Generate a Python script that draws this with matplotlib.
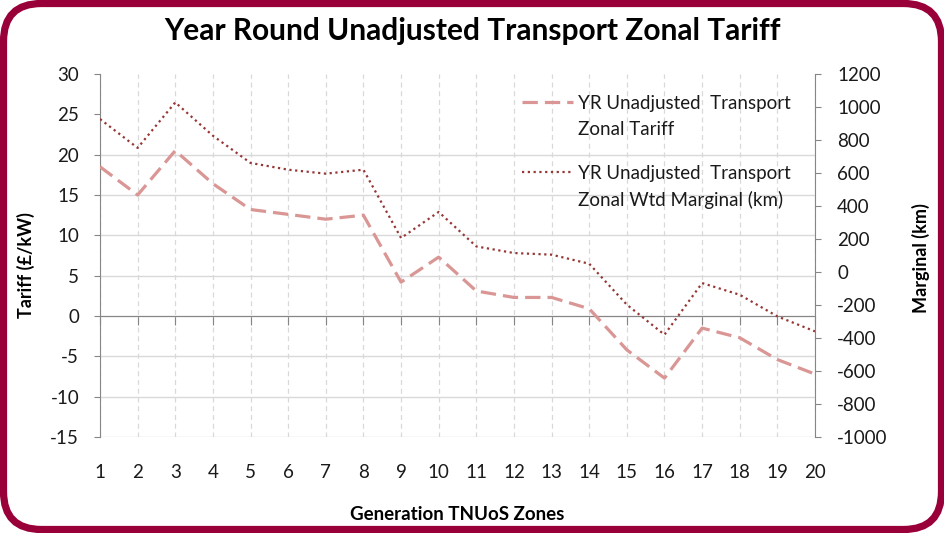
import matplotlib
matplotlib.use("Agg")
import matplotlib.pyplot as plt
from matplotlib.patches import FancyBboxPatch
from matplotlib.transforms import IdentityTransform
from matplotlib.legend_handler import HandlerLine2D

plt.rcParams['font.family'] = ['Lato', 'DejaVu Sans']
plt.rcParams['axes.unicode_minus'] = False

# values
zones = list(range(1, 21))
tariff = [18.5, 15.0, 20.5, 16.4, 13.2, 12.6, 12.0, 12.5, 4.2, 7.3,
          3.1, 2.3, 2.3, 0.9, -4.2, -7.7, -1.5, -2.7, -5.4, -7.2]
marginal = [927, 752, 1028, 826, 661, 620, 596, 620, 206, 364,
            155, 115, 105, 50, -198, -380, -67, -138, -269, -360]
left_ticks = [30, 25, 20, 15, 10, 5, 0, -5, -10, -15]
right_ticks = [1200, 1000, 800, 600, 400, 200, 0, -200, -400, -600, -800, -1000]

title = "Year Round Unadjusted Transport Zonal Tariff"
lab_tariff = "YR Unadjusted  Transport\nZonal Tariff"
lab_marg = "YR Unadjusted  Transport\nZonal Wtd Marginal (km)"

axis_grey = '#868686'
grid_grey = '#d9d9d9'
txt = '#1a1a1a'


class FirstLineHandler(HandlerLine2D):
    # put the legend key beside the first line of a two-line label
    def create_artists(self, legend, orig_handle, xdescent, ydescent,
                       width, height, fontsize, trans):
        return super().create_artists(legend, orig_handle, xdescent,
                                      ydescent - 21.5, width, height,
                                      fontsize, trans)


fig = plt.figure(figsize=(9.45, 5.33), dpi=100)
ax = fig.add_axes([100 / 945, 1 - 437 / 533, 715 / 945, 363 / 533])
ax2 = ax.twinx()

l1, = ax.plot(zones, tariff, color='#D99694', lw=2.3,
              linestyle=(0, (4.8, 2.2)), label=lab_tariff, zorder=3)
l2, = ax2.plot(zones, marginal, color='#953735', lw=1.6,
               linestyle=(0, (1, 1.6)), label=lab_marg, zorder=3)

ax.set_xlim(1, 20)
ax.set_ylim(-15, 30)
ax2.set_ylim(-1000, 1200)
ax.set_xticks(zones)
ax.set_yticks(left_ticks)
ax2.set_yticks(right_ticks)

# gridlines
ax.grid(axis='x', color=grid_grey, lw=0.9, linestyle=(0, (4, 3)))
ax.grid(axis='y', color=grid_grey, lw=1.0)
for val, gl in zip(left_ticks, ax.yaxis.get_gridlines()):
    if val > 20:
        gl.set_visible(False)
ax.set_axisbelow(True)

ax.spines['top'].set_visible(False)
ax2.spines['top'].set_visible(False)
ax.spines['bottom'].set_position(('data', 0))
ax.spines['bottom'].set_color(axis_grey)
ax.spines['left'].set_color(axis_grey)
ax2.spines['right'].set_color(axis_grey)
ax2.spines['left'].set_visible(False)
ax2.spines['bottom'].set_visible(False)
ax.spines['right'].set_visible(False)

ax.tick_params(axis='x', direction='out', length=6.5, color=axis_grey,
               pad=100, labelsize=13.5, labelcolor=txt)
ax.tick_params(axis='y', direction='out', length=4, color=axis_grey,
               pad=11, labelsize=13.5, labelcolor=txt)
ax2.tick_params(axis='y', direction='out', length=4, color=axis_grey,
                pad=12, labelsize=13.5, labelcolor=txt)

ax.set_ylabel("Tariff (£/kW)", fontsize=13, fontweight='bold', color='black')
ax.yaxis.set_label_coords(-0.0909, 0.474)
ax2.set_ylabel("Marginal (km)", fontsize=13, fontweight='bold', color='black')
ax2.yaxis.set_label_coords(1.1357, 0.493)
ax.set_xlabel("Generation TNUoS Zones", fontsize=13.5, fontweight='bold', color='black')
ax.xaxis.set_label_coords(0.499, -0.19)

fig.text(0.5, 1 - 31 / 533, title, ha='center', va='center', fontsize=21.5,
         fontweight='bold')

leg = ax2.legend(handles=[l1, l2], loc='upper left', bbox_to_anchor=(0.58, 0.963),
                 frameon=False, fontsize=13.5, handlelength=2.7, handletextpad=0.25,
                 labelspacing=1.42, borderaxespad=0,
                 handler_map={l1: FirstLineHandler(), l2: FirstLineHandler()})
for t in leg.get_texts():
    t.set_linespacing(1.64)
    t.set_color(txt)

# rounded crimson border
border = FancyBboxPatch((3.5, 3.5), 938, 526,
                        boxstyle="round,pad=0,rounding_size=38",
                        transform=IdentityTransform(), fill=False,
                        edgecolor='#99003A', lw=5.2)
fig.patches.append(border)

fig.savefig("out.png", dpi=100)
